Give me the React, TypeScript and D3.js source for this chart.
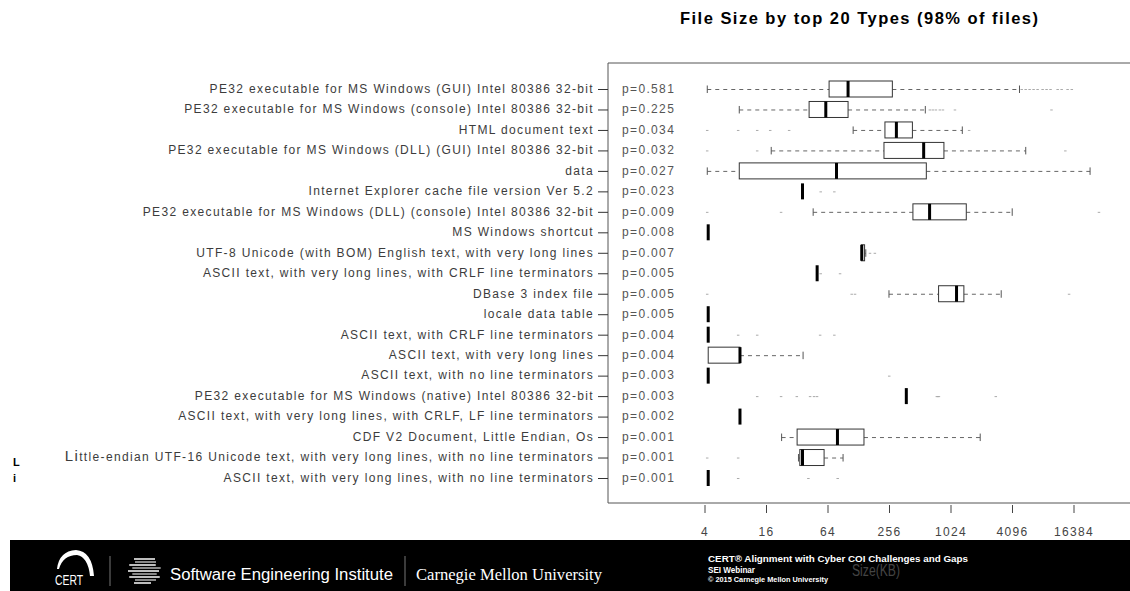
import * as d3 from "d3";

const WIDTH = 1130;
const HEIGHT = 591;

// file types, top to bottom
const TYPES: string[] = [
  "PE32 executable for MS Windows (GUI) Intel 80386 32-bit",
  "PE32 executable for MS Windows (console) Intel 80386 32-bit",
  "HTML document text",
  "PE32 executable for MS Windows (DLL) (GUI) Intel 80386 32-bit",
  "data",
  "Internet Explorer cache file version Ver 5.2",
  "PE32 executable for MS Windows (DLL) (console) Intel 80386 32-bit",
  "MS Windows shortcut",
  "UTF-8 Unicode (with BOM) English text, with very long lines",
  "ASCII text, with very long lines, with CRLF line terminators",
  "DBase 3 index file",
  "locale data table",
  "ASCII text, with CRLF line terminators",
  "ASCII text, with very long lines",
  "ASCII text, with no line terminators",
  "PE32 executable for MS Windows (native) Intel 80386 32-bit",
  "ASCII text, with very long lines, with CRLF, LF line terminators",
  "CDF V2 Document, Little Endian, Os",
  "Little-endian UTF-16 Unicode text, with very long lines, with no line terminators",
  "ASCII text, with very long lines, with no line terminators",
];

const PVALS: string[] = [
  "p=0.581", "p=0.225", "p=0.034", "p=0.032", "p=0.027", "p=0.023", "p=0.009",
  "p=0.008", "p=0.007", "p=0.005", "p=0.005", "p=0.005", "p=0.004", "p=0.004",
  "p=0.003", "p=0.003", "p=0.002", "p=0.001", "p=0.001", "p=0.001",
];

// box stats, size in KB
const WLO: number[] = [4.21, 8.66, 112.8, 17.8, 4.21, 36, 45.8, 4.3, 136, 50.1, 253, 4.3, 4.3, 4.3, 4.3, 374, 8.8, 22.5, 32.9, 4.3];
const Q1: number[] = [65.6, 41.8, 231, 226, 8.66, 36, 434, 4.3, 136, 50.1, 774, 4.3, 4.3, 4.3, 4.3, 374, 8.8, 31.9, 33.9, 4.3];
const MED: number[] = [100.6, 60.9, 299, 553, 77.5, 36, 632, 4.3, 137, 50.1, 1160, 4.3, 4.3, 8.8, 4.3, 374, 8.8, 79.2, 36.0, 4.3];
const Q3: number[] = [273, 100.6, 429, 873, 587, 36, 1445, 4.3, 146, 50.1, 1369, 4.3, 4.3, 8.8, 4.3, 374, 8.8, 144, 58.6, 4.3];
const WHI: number[] = [4795, 574, 1321, 5520, 23540, 36, 4070, 4.3, 150, 50.1, 3176, 4.3, 4.3, 36.5, 4.3, 374, 8.8, 1978, 89.9, 4.3];
const OUTLIERS: number[][] = [
  [5010, 5480, 5990, 6550, 7170, 8030, 8780, 9600, 11270, 12330, 14100, 15500],
  [632, 676, 724, 792, 849, 1113, 9810],
  [4.18, 8.4, 12.9, 17.3, 26.5, 1532],
  [4.18, 12.9, 13400],
  [],
  [54, 73.4],
  [4.18, 22.1, 28600],
  [],
  [164, 183],
  [54, 83.5],
  [4.18, 108.6, 117, 14580],
  [],
  [8.4, 12.9, 53.3, 73.4],
  [],
  [253],
  [12.9, 22.1, 31.5, 42.5, 46.5, 49.7, 740, 757, 775, 2794],
  [],
  [],
  [4.18, 8.4],
  [8.4, 40.9, 79.2],
];

const XTICKS: number[] = [4, 16, 64, 256, 1024, 4096, 16384];

const FONT = "'Liberation Sans', Arial, Helvetica, sans-serif";

const frame = { left: 608, top: 63, bottom: 503 };

export default function App() {
  const x = d3.scaleLog().base(2).domain([4, 16384]).range([705, 1074]);
  const y = d3.scalePoint<string>().domain(TYPES).range([89, 478]);
  const bh = 8; // half box height

  return (
    <div style={{ position: "fixed", left: 0, top: 0 }}>
      <svg width={WIDTH} height={HEIGHT} style={{ display: "block", background: "#fff" }}>
        <text
          x={859}
          y={24}
          textAnchor="middle"
          fontFamily={FONT}
          fontWeight="bold"
          fontSize={16.5}
          textLength={358}
          lengthAdjust="spacing"
          fill="#000"
        >
          File Size by top 20 Types (98% of files)
        </text>

        {/* frame */}
        <path
          d={`M${WIDTH + 5},${frame.top}H${frame.left}V${frame.bottom}H${WIDTH + 5}`}
          fill="none"
          stroke="#555"
          strokeWidth={1}
        />

        {/* y axis */}
        {TYPES.map((t, i) => {
          const yy = y(t)!;
          const big = t.startsWith("Little");
          return (
            <g key={t}>
              <line x1={598} x2={frame.left} y1={yy + 0.5} y2={yy + 0.5} stroke="#333" />
              <text
                x={594}
                y={yy}
                dy="0.32em"
                textAnchor="end"
                fontFamily={FONT}
                fontSize={12}
                letterSpacing={1.35}
                fill="#3c3c3c"
              >
                {big ? (
                  <>
                    <tspan fontSize={15}>Li</tspan>
                    {t.slice(2)}
                  </>
                ) : (
                  t
                )}
              </text>
              <text
                x={622}
                y={yy}
                dy="0.32em"
                fontFamily={FONT}
                fontSize={12}
                letterSpacing={1.35}
                fill="#555"
              >
                {PVALS[i]}
              </text>
            </g>
          );
        })}

        {/* boxes */}
        {TYPES.map((t, i) => {
          const yy = y(t)!;
          const lo = x(WLO[i]);
          const q1 = x(Q1[i]);
          const md = x(MED[i]);
          const q3 = x(Q3[i]);
          const hi = x(WHI[i]);
          return (
            <g key={"b" + i}>
              {OUTLIERS[i].map((o, j) => (
                <rect key={j} x={x(o) - 1} y={yy} width={2.5} height={1} fill="#aaa" />
              ))}
              {lo < q1 - 0.5 && (
                <>
                  <line x1={lo} x2={q1} y1={yy + 0.5} y2={yy + 0.5} stroke="#666" strokeDasharray="4,4" />
                  <line x1={lo} x2={lo} y1={yy - 3.5} y2={yy + 4} stroke="#555" />
                </>
              )}
              {hi > q3 + 0.5 && (
                <>
                  <line x1={q3} x2={hi} y1={yy + 0.5} y2={yy + 0.5} stroke="#666" strokeDasharray="4,4" />
                  <line x1={hi} x2={hi} y1={yy - 3.5} y2={yy + 4} stroke="#555" />
                </>
              )}
              {q3 - q1 > 0.5 && (
                <rect x={q1} y={yy - bh} width={q3 - q1} height={bh * 2} fill="#fff" stroke="#333" />
              )}
              <line x1={md} x2={md} y1={yy - bh} y2={yy + bh} stroke="#000" strokeWidth={3} />
            </g>
          );
        })}

        {/* x axis */}
        {XTICKS.map((v) => (
          <g key={v}>
            <line x1={x(v)} x2={x(v)} y1={frame.bottom + 2} y2={frame.bottom + 10} stroke="#444" />
            <text
              x={x(v)}
              y={536}
              textAnchor="middle"
              fontFamily={FONT}
              fontSize={12}
              letterSpacing={1.35}
              fill="#444"
            >
              {v}
            </text>
          </g>
        ))}

        {/* stray letters at the left edge */}
        <text x={13} y={466} fontFamily={FONT} fontWeight="bold" fontSize={11} fill="#000">L</text>
        <text x={13} y={482} fontFamily={FONT} fontWeight="bold" fontSize={11} fill="#000">i</text>

        {/* footer band */}
        <rect x={10} y={540} width={WIDTH - 10} height={HEIGHT - 540} fill="#000" />
        <path
          d="M57,569 Q59,551 76,550 Q92,551 94,576 L90,576 Q88,557 77,555 Q63,555 59,569 Z"
          fill="#fff"
        />
        <text x={55} y={585} fontFamily={FONT} fontSize={15} textLength={28} lengthAdjust="spacingAndGlyphs" fill="#fff">
          CERT
        </text>
        <line x1={110} x2={110} y1={556} y2={586} stroke="#777" />
        {[-12, -9, -6, -3, 0, 3, 6, 9, 12].map((d, k) => {
          const half = Math.sqrt(Math.max(0, 15 * 15 - d * d));
          return (
            <line
              key={k}
              x1={143 - half + (k % 2) * 4}
              x2={143 + half + 3 - (k % 3) * 2}
              y1={571 + d}
              y2={571 + d}
              stroke={k % 2 ? "#aaa" : "#eee"}
              strokeWidth={1.6}
            />
          );
        })}
        <text x={170} y={580} fontFamily={FONT} fontSize={16} textLength={223} lengthAdjust="spacingAndGlyphs" fill="#fff">
          Software Engineering Institute
        </text>
        <line x1={405} x2={405} y1={556} y2={586} stroke="#777" />
        <text
          x={416}
          y={580}
          fontFamily="'Liberation Serif', 'Times New Roman', serif"
          fontSize={17}
          textLength={186}
          lengthAdjust="spacingAndGlyphs"
          fill="#fff"
        >
          Carnegie Mellon University
        </text>
        <text x={708} y={562} fontFamily={FONT} fontWeight="bold" fontSize={9.5} textLength={260} lengthAdjust="spacingAndGlyphs" fill="#fff">
          CERT® Alignment with Cyber COI Challenges and Gaps
        </text>
        <text x={708} y={573} fontFamily={FONT} fontWeight="bold" fontSize={9.5} textLength={47} lengthAdjust="spacingAndGlyphs" fill="#fff">
          SEI Webinar
        </text>
        <text x={708} y={582} fontFamily={FONT} fontWeight="bold" fontSize={7} textLength={120} lengthAdjust="spacingAndGlyphs" fill="#fff">
          © 2015 Carnegie Mellon University
        </text>
        <text
          x={876}
          y={576}
          textAnchor="middle"
          fontFamily={FONT}
          fontSize={16}
          textLength={48}
          lengthAdjust="spacingAndGlyphs"
          fill="#444"
        >
          Size(KB)
        </text>
      </svg>
    </div>
  );
}
